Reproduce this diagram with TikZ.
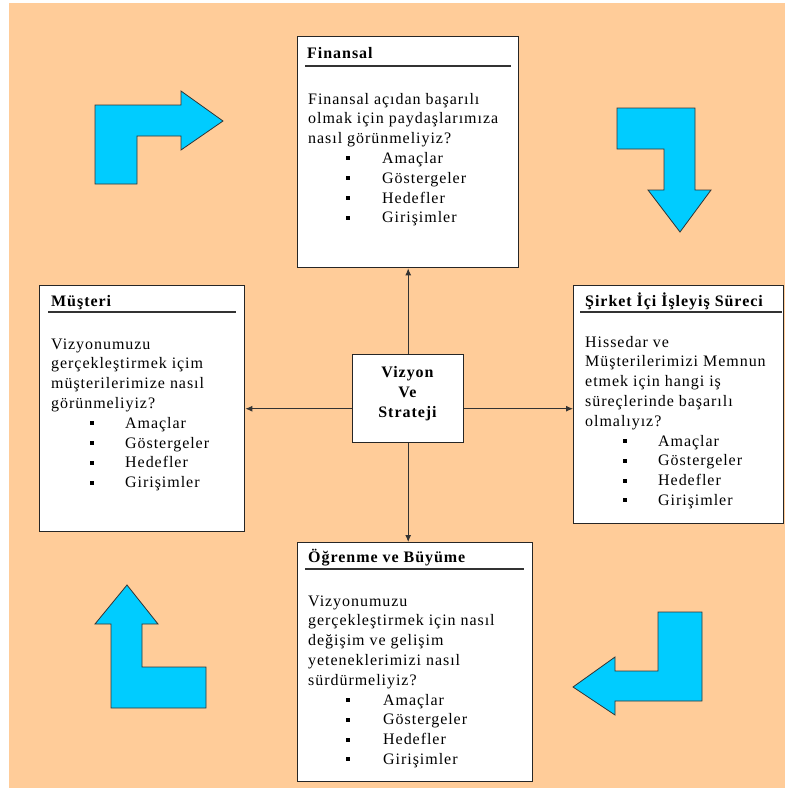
\documentclass[tikz,border=0pt]{standalone}
\usepackage{fontspec}
\setmainfont{Liberation Serif}[LetterSpace=6]
\usetikzlibrary{arrows.meta}
\definecolor{peach}{HTML}{FFCC99}
\definecolor{skyc}{HTML}{00CCFF}
\tikzset{
 box/.style={draw=black!85, line width=1.4pt, fill=white, inner sep=0, anchor=north west, rectangle},
 txt/.style={anchor=base west, inner sep=0, font=\fontsize{16}{20}\selectfont},
 head/.style={anchor=base west, inner sep=0, font=\fontsize{16}{20}\selectfont\bfseries},
 ctext/.style={anchor=base, inner sep=0, font=\fontsize{16}{20}\selectfont\bfseries},
 bul/.style={fill=black, inner sep=0, minimum size=4pt, rectangle},
 conn/.style={draw=black!80, line width=0.9pt, -{Latex[length=7pt,width=6pt]}},
 bendarrow/.style={fill=skyc, draw=black!80, line width=0.8pt, line join=miter},
 hrule/.style={line width=1.6pt, draw=black!80}
}
\newcommand\mylines[4]{%
 \foreach \t [count=\i from 0] in {#4} {\node[txt] (#1-\i) at (#2,{#3+19.8*\i}) {\t};}}
\newcommand\mybullets[4]{%
 \foreach \t [count=\i from 0] in {Amaçlar,Göstergeler,Hedefler,Girişimler} {%
   \node[bul] (#1-b\i) at (#2,{#4+19.8*\i-5}) {};
   \node[txt] (#1-t\i) at (#3,{#4+19.8*\i}) {\t};}}
\begin{document}
\begin{tikzpicture}[x=1pt,y=-1pt]
\useasboundingbox (0,0) rectangle (785,788);
\fill[white] (0,0) rectangle (785,788);
\fill[peach] (9,3) rectangle (785,788);

% bent arrows
\draw[bendarrow] (95,184) -- (95,105) -- (181,105) -- (181,91) -- (223,121) -- (181,150) -- (181,136) -- (137,136) -- (137,184) -- cycle;
\draw[bendarrow] (617,108) -- (695,108) -- (695,190) -- (711,190) -- (680,232) -- (648,190) -- (664,190) -- (664,149) -- (617,149) -- cycle;
\draw[bendarrow] (111,708) -- (111,624) -- (95,624) -- (127,585) -- (158,624) -- (142,624) -- (142,667) -- (206,667) -- (206,708) -- cycle;
\draw[bendarrow] (658,612) -- (702,612) -- (702,701) -- (615,701) -- (615,715) -- (573,687) -- (615,657) -- (615,671) -- (658,671) -- cycle;

% boxes
\node[box, minimum width=221pt, minimum height=231pt] (fin) at (297,36) {};
\node[box, minimum width=205pt, minimum height=246pt] (mus) at (39,285) {};
\node[box, minimum width=210pt, minimum height=238pt] (sir) at (573,285) {};
\node[box, minimum width=235pt, minimum height=239pt] (lrn) at (297,542) {};
\node[box, minimum width=111pt, minimum height=88pt] (ctr) at (352,354) {};

% Finansal
\node[head] (fin-h) at (307,58) {Finansal};
\draw[hrule] (305,66) -- (511,66);
\mylines{f}{308}{104}{Finansal açıdan başarılı,olmak için paydaşlarımıza,nasıl görünmeliyiz?}
\mybullets{f}{348}{382}{163.4}

% Musteri
\node[head] (mus-h) at (51,306) {Müşteri};
\draw[hrule] (48,312) -- (236,312);
\mylines{m}{51}{349}{Vizyonumuzu,gerçekleştirmek içim,müşterilerimize nasıl,görünmeliyiz?}
\mybullets{m}{92}{125}{428.2}

% Sirket
\node[head] (sir-h) at (585,306) {Şirket İçi İşleyiş Süreci};
\draw[hrule] (580,312) -- (782,312);
\mylines{s}{585}{347}{Hissedar ve,Müşterilerimizi Memnun,etmek için hangi iş,süreçlerinde başarılı,olmalıyız?}
\mybullets{s}{625}{658}{446}

% Ogrenme
\node[head] (lrn-h) at (308,562) {Öğrenme ve Büyüme};
\draw[hrule] (305,569) -- (524,569);
\mylines{l}{308}{606}{Vizyonumuzu,gerçekleştirmek için nasıl,değişim ve gelişim,yeteneklerimizi nasıl,sürdürmeliyiz?}
\mybullets{l}{348}{383}{705}

% center
\node[ctext] (c1) at (407.5,377) {Vizyon};
\node[ctext] (c2) at (407.5,397) {Ve};
\node[ctext] (c3) at (407.5,417) {Strateji};

% connectors
\draw[conn] (ctr.north) -- (fin.south);
\draw[conn] (ctr.south) -- (ctr.south |- lrn.north);
\draw[conn] (ctr.west |- mus.east) -- (mus.east);
\draw[conn] (ctr.east |- mus.east) -- (mus.east -| sir.west);
\end{tikzpicture}
\end{document}
